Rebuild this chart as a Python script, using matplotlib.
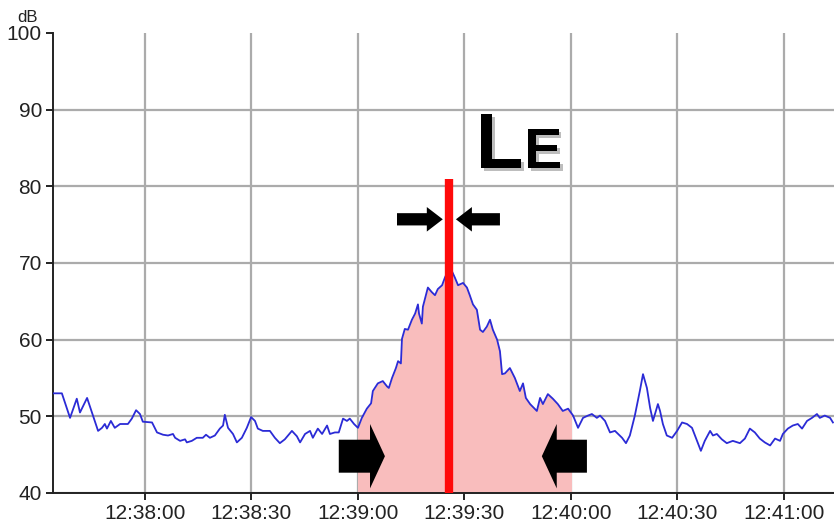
import numpy as np
import pandas as pd
import matplotlib
matplotlib.use("Agg")
import matplotlib.pyplot as plt
import matplotlib.dates as mdates
import matplotlib.patheffects as pe
from matplotlib.patches import FancyArrow, Rectangle

# Sound level record, seconds relative to 12:38:00
t_s = [-25.9, -23.4, -21.1, -19.2, -18.3, -16.3, -13.2, -12.1, -11.3, -10.7,
       -9.6, -8.5, -7.0, -4.8, -3.7, -2.5, -1.4, -0.6, 2.0, 3.4,
       5.1, 6.5, 7.9, 8.5, 9.9, 11.3, 11.8, 13.2, 14.6, 16.3,
       17.2, 18.3, 19.7, 21.1, 22.0, 22.5, 23.4, 24.8, 25.9, 27.3,
       28.7, 29.9, 31.0, 31.8, 33.2, 35.2, 36.6, 38.0, 39.4, 41.4,
       42.8, 43.7, 45.1, 46.5, 47.3, 48.7, 49.9, 51.3, 52.1, 53.5,
       54.6, 55.8, 56.9, 57.7, 58.9, 60.0, 61.1, 62.5, 63.7, 64.2,
       65.6, 67.0, 68.2, 68.7, 69.6, 70.7, 71.3, 72.1, 72.4, 73.2,
       74.1, 75.2, 76.1, 76.9, 77.2, 78.0, 78.3, 79.2, 79.7, 80.8,
       81.7, 82.5, 83.7, 84.5, 85.4, 86.5, 87.3, 88.2, 89.6, 90.7,
       91.5, 92.4, 93.5, 94.4, 95.2, 96.3, 97.2, 98.0, 99.2, 100.0,
       100.6, 101.4, 102.8, 104.2, 105.6, 106.5, 107.3, 108.5, 110.4, 111.3,
       112.1, 113.5, 114.9, 116.3, 117.7, 119.2, 120.6, 122.0, 123.4, 124.8,
       125.9, 127.3, 128.2, 129.6, 131.0, 132.4, 134.4, 135.5, 136.6, 138.0,
       139.4, 140.3, 141.4, 142.3, 143.1, 144.5, 145.1, 145.9, 147.0, 148.5,
       149.9, 151.3, 152.7, 154.1, 155.5, 156.6, 157.7, 159.2, 160.0, 161.1,
       162.5, 163.9, 165.6, 167.6, 169.0, 170.4, 171.8, 173.2, 174.6, 176.1,
       177.5, 178.9, 179.7, 181.1, 182.5, 183.9, 185.1, 186.5, 187.9, 189.3,
       190.1, 191.5, 193.0, 193.8]
level_db = [53.0, 53.0, 49.8, 52.3, 50.5, 52.4, 48.1, 48.5, 49.0, 48.4,
            49.4, 48.5, 49.0, 49.0, 49.7, 50.8, 50.3, 49.3, 49.2, 47.9,
            47.6, 47.5, 47.7, 47.2, 46.8, 47.0, 46.6, 46.8, 47.2, 47.2,
            47.6, 47.2, 47.5, 48.4, 48.8, 50.2, 48.5, 47.7, 46.6, 47.2,
            48.5, 49.9, 49.4, 48.4, 48.1, 48.1, 47.2, 46.5, 47.0, 48.1,
            47.4, 46.6, 47.7, 48.1, 47.2, 48.4, 47.7, 48.8, 47.7, 47.9,
            47.9, 49.7, 49.4, 49.7, 49.0, 48.5, 49.8, 51.0, 51.7, 53.3,
            54.3, 54.6, 53.9, 53.7, 55.0, 56.3, 57.2, 56.9, 60.1, 61.4,
            61.3, 62.6, 63.4, 64.6, 63.4, 62.1, 64.3, 65.9, 66.8, 66.2,
            65.8, 66.6, 67.1, 68.1, 69.0, 68.9, 68.1, 67.1, 67.4, 66.8,
            65.8, 64.6, 63.9, 61.3, 61.0, 61.7, 62.6, 61.3, 60.0, 58.5,
            55.5, 55.6, 56.3, 55.0, 53.3, 54.3, 52.4, 51.6, 50.7, 52.4,
            51.6, 52.9, 52.3, 51.6, 50.7, 51.0, 50.1, 48.5, 49.8, 50.1,
            50.3, 49.8, 50.1, 49.4, 47.9, 48.1, 47.2, 46.5, 47.5, 50.1,
            53.3, 55.5, 53.7, 51.1, 49.4, 51.6, 50.7, 49.0, 47.5, 47.2,
            48.1, 49.2, 49.0, 48.5, 46.8, 45.5, 46.8, 48.1, 47.5, 47.7,
            47.0, 46.5, 46.8, 46.5, 47.1, 48.4, 47.9, 47.1, 46.6, 46.2,
            47.1, 46.8, 47.7, 48.4, 48.8, 49.0, 48.4, 49.4, 49.8, 50.3,
            49.8, 50.1, 49.8, 49.2]

# event window and its exposure level
event_start = "12:39:00"
event_end = "12:40:00"
le_time = "12:39:25.6"
le_value = 81.0

view_start = "12:37:34.1"
view_end = "12:41:14.1"
y_ticks = [40, 50, 60, 70, 80, 90, 100]

day = "2000-01-01 "
base = pd.Timestamp(day + "12:38:00")
times = base + pd.to_timedelta(t_s, unit="s")
x = mdates.date2num(times.to_pydatetime())
y = np.array(level_db)


def tnum(s):
    return mdates.date2num(pd.Timestamp(day + s).to_pydatetime())


sec = 1.0 / 86400.0
x0, x1 = tnum(event_start), tnum(event_end)
xle = tnum(le_time)

tick_font = ["Liberation Sans", "DejaVu Sans"]

fig = plt.figure(figsize=(8.34, 5.29), dpi=100)
ax = fig.add_axes([53 / 834, 1 - 493 / 529, 1 - 53 / 834, 460 / 529])

# shaded event area under the curve
fill = ax.fill_between(x, 40, y, color="#f9bdbd", lw=0, zorder=1)
clip = Rectangle((x0, 40), x1 - x0, 60, transform=ax.transData)
fill.set_clip_path(clip)

ax.plot(x, y, color="#2b2bd6", lw=1.3, zorder=3)
ax.vlines(xle, 40, le_value, color="#ff0a0a", lw=6, zorder=4)

ax.set_xlim(tnum(view_start), tnum(view_end))
ax.set_ylim(40, 100)
ax.set_yticks(y_ticks)
ax.xaxis.set_major_locator(mdates.SecondLocator(bysecond=[0, 30]))
ax.xaxis.set_major_formatter(mdates.DateFormatter("%H:%M:%S"))

ax.grid(True, color="#ababab", lw=1.6, zorder=0)
ax.set_axisbelow(True)
for sp in ["top", "right"]:
    ax.spines[sp].set_visible(False)
for sp in ["left", "bottom"]:
    ax.spines[sp].set_color("#222222")
    ax.spines[sp].set_linewidth(1.4)
ax.tick_params(length=5, width=1.4, color="#222222", labelsize=15, pad=3)
for lab in ax.get_xticklabels() + ax.get_yticklabels():
    lab.set_family(tick_font)
    lab.set_color("#222222")
ax.yaxis.get_gridlines()[-1].set_visible(False)

fig.text(28 / 834, 1 - 18 / 529, "dB", family=tick_font, fontsize=12,
         color="#222222", ha="center", va="center")

# arrows marking the window edges
big = dict(width=4.3, head_width=8.4, head_length=4.2 * sec,
           length_includes_head=True, color="black", lw=0, zorder=5)
ax.add_patch(FancyArrow(x0 - 5.4 * sec, 44.8, 13.0 * sec, 0, **big))
ax.add_patch(FancyArrow(x1 + 4.5 * sec, 44.8, -12.7 * sec, 0, **big))

# arrows pointing at the LE marker
small = dict(width=1.6, head_width=3.2, head_length=4.5 * sec,
             length_includes_head=True, color="black", lw=0, zorder=5)
ax.add_patch(FancyArrow(xle - 14.6 * sec, 75.7, 12.9 * sec, 0, **small))
ax.add_patch(FancyArrow(xle + 14.4 * sec, 75.7, -12.4 * sec, 0, **small))

# "LE" label with a soft drop shadow, small-cap E set right after L
shadow = [pe.SimplePatchShadow(offset=(2, -2), shadow_rgbFace="#888888", alpha=0.55),
          pe.Normal()]
le_font = ["Liberation Sans", "DejaVu Sans"]
txt_l = ax.text(xle + 7.6 * sec, 82.4, "L", family=le_font, weight="bold",
                fontsize=56, color="black", ha="left", va="baseline",
                path_effects=shadow, zorder=6)
ax.annotate("E", xy=(1, 82.4), xycoords=(txt_l, "data"), xytext=(0.5, 0),
            textcoords="offset points", family=le_font, weight="bold",
            fontsize=41, color="black", ha="left", va="baseline",
            path_effects=shadow, zorder=6)

fig.savefig("out.png", dpi=100)
